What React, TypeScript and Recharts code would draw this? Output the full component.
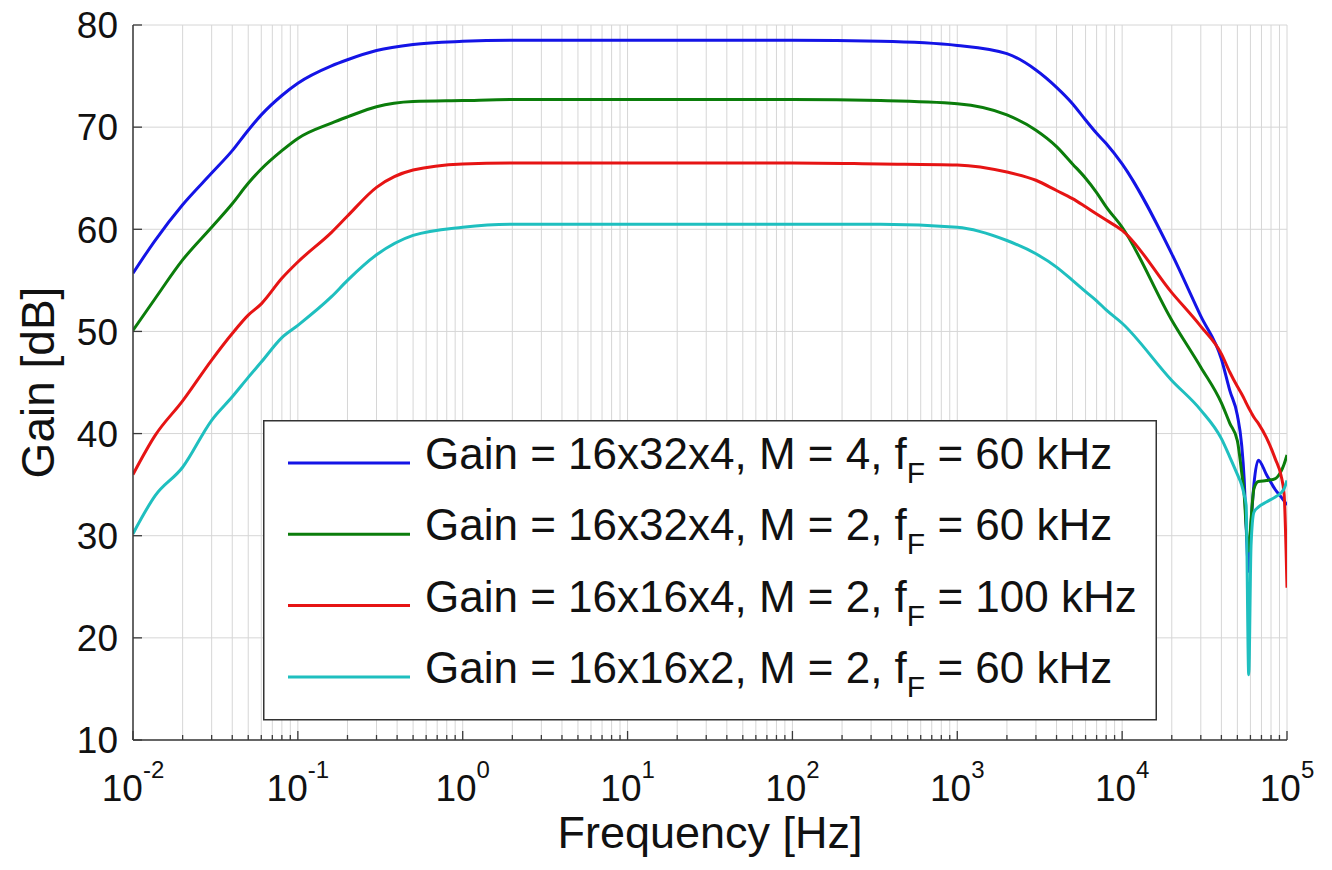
import { CartesianGrid, Label, Legend, Line, LineChart, XAxis, YAxis } from 'recharts';

// frequency samples [Hz]
const freq = [
  0.01, 0.0136, 0.02, 0.03, 0.04, 0.05, 0.06, 0.08, 0.1, 0.16, 0.2, 0.3, 0.5, 1, 2, 10, 100, 343,
  1000, 2000, 3000, 4000, 5000, 6000, 7000, 8000, 10000, 20000, 30000, 40000, 45000, 50000, 53000,
  55000, 56500, 58600, 60500, 63000, 67000, 75000, 85000, 92000, 96000, 100000
];

// gain [dB]
const gain16x32x4M4 = [
  55.7, 58.9, 62.4, 65.5, 67.7, 69.7, 71.2, 73.1, 74.3, 76.0, 76.6, 77.5, 78.1, 78.4, 78.5, 78.5, 78.5, 78.4,
  78.0, 77.2, 75.6, 73.9, 72.3, 70.7, 69.4, 68.4, 66.4, 57.6, 51.5, 47.3, 44.2, 41.8, 39.0,
  35.5, 31.0, 26.5, 31.0, 35.0, 37.4, 36.0, 34.5, 33.8, 33.4, 33.0
];
const gain16x32x4M2 = [
  50.1, 53.2, 57.0, 60.2, 62.5, 64.5, 65.9, 67.7, 68.9, 70.4, 71.0, 72.0, 72.5, 72.6, 72.7, 72.7, 72.7, 72.6,
  72.3, 71.2, 69.7, 68.1, 66.4, 65.0, 63.6, 62.2, 60.2, 51.1, 46.5, 43.0, 41.0, 39.3, 36.3,
  34.0, 31.0, 28.5, 31.5, 34.6, 35.3, 35.4, 35.6, 36.3, 37.0, 37.9
];
const gain16x16x4M2 = [
  36.0, 39.8, 43.2, 47.2, 49.8, 51.6, 52.7, 55.2, 56.8, 59.7, 61.3, 64.1, 65.8, 66.4, 66.5, 66.5, 66.5, 66.4,
  66.3, 65.6, 64.8, 63.8, 63.0, 62.2, 61.5, 60.9, 59.9, 53.8, 50.5, 47.8, 46.0, 44.6, 43.9,
  43.4, 43.0, 42.5, 42.1, 41.6, 41.0, 39.6, 37.5, 35.9, 34.1, 24.9
];
const gain16x16x2M2 = [
  30.2, 33.9, 36.7, 41.3, 43.6, 45.5, 47.0, 49.4, 50.6, 53.4, 55.0, 57.5, 59.4, 60.2, 60.5, 60.5, 60.5, 60.5,
  60.2, 58.9, 57.6, 56.3, 55.0, 53.9, 53.0, 52.1, 50.8, 45.2, 42.3, 39.5, 37.7, 36.0, 35.0,
  34.0, 33.0, 16.4, 29.0, 32.3, 32.8, 33.3, 33.8, 34.2, 34.6, 35.4
];

const seriesKeys = ['m4', 'm2', 'g4', 'g2'];
const seriesColors = ['#1414e6', '#0b7d0b', '#e61414', '#1fbfbf'];
const legendHead = [
  'Gain = 16x32x4, M = 4, f',
  'Gain = 16x32x4, M = 2, f',
  'Gain = 16x16x4, M = 2, f',
  'Gain = 16x16x2, M = 2, f'
];
const legendTail = [' = 60 kHz', ' = 60 kHz', ' = 100 kHz', ' = 60 kHz'];

const yTicks = [10, 20, 30, 40, 50, 60, 70, 80];
const decades = [-2, -1, 0, 1, 2, 3, 4];
const xTicks = decades.flatMap((e) => [1, 2, 3, 4, 5, 6, 7, 8, 9].map((m) => m * Math.pow(10, e))).concat([100000]);

const rows = freq.map((f, i) => ({
  f,
  m4: gain16x32x4M4[i],
  m2: gain16x32x4M2[i],
  g4: gain16x16x4M2[i],
  g2: gain16x16x2M2[i]
}));

const FONT = '"Liberation Sans", Arial, Helvetica, sans-serif';
const AXIS = '#3a3a3a';
const INK = '#111';

const isMajor = (v: number) => Math.abs(Math.log10(v) - Math.round(Math.log10(v))) < 1e-6;

function BottomTick({ x, y, payload }: any) {
  const v = payload.value;
  const major = isMajor(v);
  return (
    <g>
      <line x1={x} x2={x} y1={y} y2={y - (major ? 9 : 5)} stroke={AXIS} strokeWidth={1.3} />
      {major && (
        <text x={x} y={y + 61} textAnchor="middle" fontSize={37} fontFamily={FONT} fill={INK}>
          10
          <tspan dy={-23} fontSize={24}>{String(Math.round(Math.log10(v)))}</tspan>
        </text>
      )}
    </g>
  );
}

function TopTick({ x, y, payload }: any) {
  const major = isMajor(payload.value);
  return <line x1={x} x2={x} y1={y} y2={y + (major ? 9 : 5)} stroke={AXIS} strokeWidth={1.3} />;
}

function LeftTick({ x, y, payload }: any) {
  return (
    <g>
      <line x1={x} x2={x + 9} y1={y} y2={y} stroke={AXIS} strokeWidth={1.3} />
      <text x={x - 15} y={y} dy="0.36em" textAnchor="end" fontSize={37} fontFamily={FONT} fill={INK}>
        {payload.value}
      </text>
    </g>
  );
}

function RightTick({ x, y }: any) {
  return <line x1={x} x2={x - 9} y1={y} y2={y} stroke={AXIS} strokeWidth={1.3} />;
}

function LegendBox() {
  return (
    <svg width={894} height={301} style={{ display: 'block' }}>
      <rect x={0.75} y={0.75} width={892.5} height={299} fill="#fff" stroke="#333" strokeWidth={1.5} />
      {seriesKeys.map((k, i) => (
        <g key={k}>
          <line x1={25} x2={147} y1={43 + i * 71.3} y2={43 + i * 71.3} stroke={seriesColors[i]} strokeWidth={3} />
          <text x={162} y={49 + i * 71.3} fontSize={44} fontFamily={FONT} fill={INK}>
            {legendHead[i]}
            <tspan dy={14} fontSize={30}>F</tspan>
            <tspan dy={-14}>{legendTail[i]}</tspan>
          </text>
        </g>
      ))}
    </svg>
  );
}

export default function App() {
  return (
    <div style={{ width: 1316, height: 860, fontFamily: FONT, background: '#fff' }}>
      <LineChart width={1316} height={860} data={rows} margin={{ top: 17, right: 37, bottom: 0, left: 0 }}>
        <CartesianGrid stroke="#d6d6d6" strokeWidth={1} />
        <XAxis
          dataKey="f"
          type="number"
          scale="log"
          domain={[0.01, 100000]}
          allowDataOverflow
          ticks={xTicks}
          interval={0}
          height={128}
          tickSize={0}
          tickMargin={0}
          tickLine={false}
          axisLine={{ stroke: AXIS, strokeWidth: 1.5 }}
          tick={(p: any) => <BottomTick {...p} />}
        >
          <Label
            content={({ viewBox }: any) => (
              <text
                x={viewBox.x + viewBox.width / 2}
                y={viewBox.y + viewBox.height - 20}
                textAnchor="middle"
                fontSize={45}
                fontFamily={FONT}
                fill={INK}
              >
                Frequency [Hz]
              </text>
            )}
          />
        </XAxis>
        <XAxis
          xAxisId="top"
          orientation="top"
          dataKey="f"
          type="number"
          scale="log"
          domain={[0.01, 100000]}
          allowDataOverflow
          ticks={xTicks}
          interval={0}
          height={0}
          tickSize={0}
          tickMargin={0}
          tickLine={false}
          axisLine={{ stroke: AXIS, strokeWidth: 1.5 }}
          tick={(p: any) => <TopTick {...p} />}
        />
        <YAxis
          type="number"
          domain={[10, 80]}
          ticks={yTicks}
          interval={0}
          width={125}
          tickSize={0}
          tickMargin={0}
          tickLine={false}
          axisLine={{ stroke: AXIS, strokeWidth: 1.5 }}
          tick={(p: any) => <LeftTick {...p} />}
        >
          <Label
            content={({ viewBox }: any) => (
              <text
                transform={`translate(${viewBox.x + 46}, ${viewBox.y + viewBox.height / 2}) rotate(-90)`}
                textAnchor="middle"
                fontSize={46}
                fontFamily={FONT}
                fill={INK}
              >
                Gain [dB]
              </text>
            )}
          />
        </YAxis>
        <YAxis
          yAxisId="right"
          orientation="right"
          type="number"
          domain={[10, 80]}
          ticks={yTicks}
          interval={0}
          width={0}
          tickSize={0}
          tickMargin={0}
          tickLine={false}
          axisLine={{ stroke: AXIS, strokeWidth: 1.5 }}
          tick={(p: any) => <RightTick {...p} />}
        />
        {seriesKeys.map((k, i) => (
          <Line
            key={k}
            dataKey={k}
            name={legendHead[i] + 'F' + legendTail[i]}
            type="monotone"
            stroke={seriesColors[i]}
            strokeWidth={3}
            dot={false}
            activeDot={false}
            isAnimationActive={false}
          />
        ))}
        <Legend
          layout="vertical"
          align="center"
          verticalAlign="middle"
          content={() => <LegendBox />}
          wrapperStyle={{ left: 255, top: 412, width: 894, height: 301, margin: 0, padding: 0 }}
        />
      </LineChart>
    </div>
  );
}
